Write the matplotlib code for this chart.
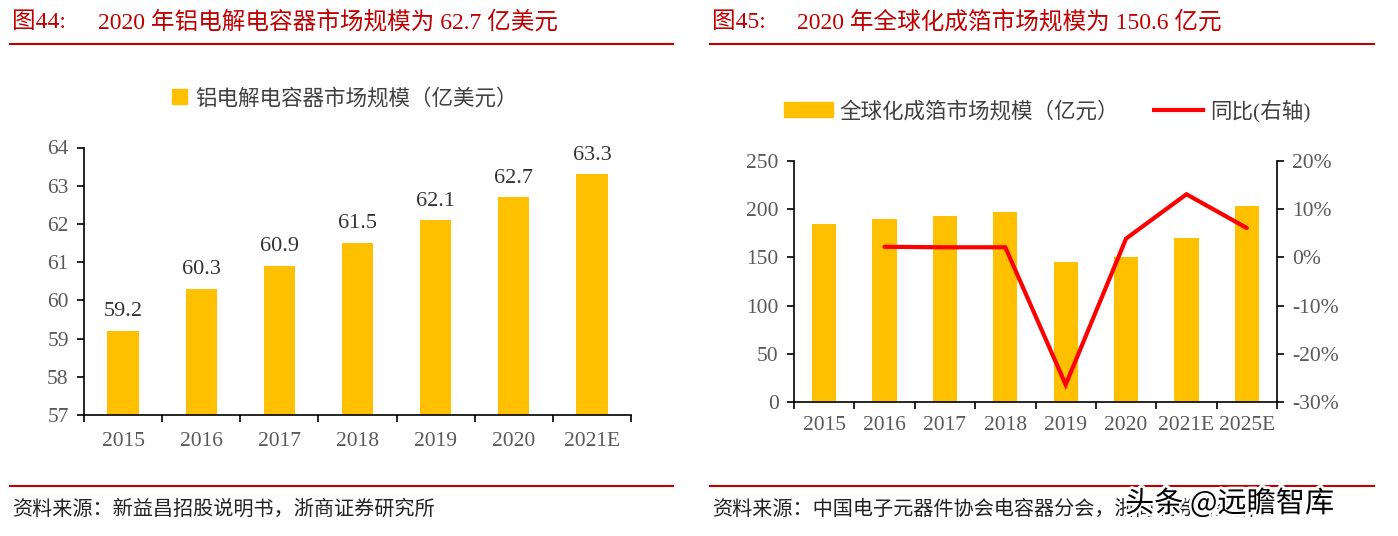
import matplotlib
matplotlib.use("Agg")
import matplotlib.pyplot as plt
from matplotlib.lines import Line2D
from matplotlib.ticker import FuncFormatter, FixedLocator
import matplotlib.patheffects as pe

plt.rcParams['font.family'] = ['Liberation Serif', 'Noto Sans CJK SC', 'DejaVu Sans']

# ---- data ----
years_l = ['2015', '2016', '2017', '2018', '2019', '2020', '2021E']
alu_cap = [59.2, 60.3, 60.9, 61.5, 62.1, 62.7, 63.3]

years_r = ['2015', '2016', '2017', '2018', '2019', '2020', '2021E', '2025E']
foil_market = [185, 189.5, 193, 197, 145, 150.6, 170, 203]
foil_yoy = [None, 2.2, 2.1, 2.1, -26.4, 3.9, 13.1, 6.1]

title_l = '2020 年铝电解电容器市场规模为 62.7 亿美元'
title_r = '2020 年全球化成箔市场规模为 150.6 亿元'
legend_l = '铝电解电容器市场规模（亿美元）'
legend_r_bar = '全球化成箔市场规模（亿元）'
legend_r_line = '同比(右轴)'
source_l = '资料来源：新益昌招股说明书，浙商证券研究所'
source_r = '资料来源：中国电子元器件协会电容器分会，浙商证券研究所'

BAR = '#FFC000'
RED = '#FF0000'
DARKRED = '#C00000'
TICK = '#595959'

W, H = 1398, 536
fig = plt.figure(figsize=(W / 100, H / 100), dpi=100)

def fx(px):
    return px / W

def fy(py):
    return 1 - py / H

# titles & rules
fig.text(fx(12), fy(22), '图44:', color=DARKRED, fontsize=17, va='center', ha='left')
fig.text(fx(98), fy(22), title_l, color=DARKRED, fontsize=17, va='center', ha='left')
fig.text(fx(712), fy(22), '图45:', color=DARKRED, fontsize=17, va='center', ha='left')
fig.text(fx(797), fy(22), title_r, color=DARKRED, fontsize=17, va='center', ha='left')
for x0, x1 in [(10, 673), (710, 1374)]:
    fig.add_artist(Line2D([fx(x0), fx(x1)], [fy(44), fy(44)], color=DARKRED, lw=1.5))
    fig.add_artist(Line2D([fx(x0), fx(x1)], [fy(486), fy(486)], color=DARKRED, lw=1.5))
fig.text(fx(12), fy(510), source_l, color='#222222', fontsize=14.5, va='center', ha='left')
fig.text(fx(712), fy(510), source_r, color='#222222', fontsize=14.5, va='center', ha='left')
fig.text(fx(1125), fy(504), '头条 @远瞻智库', color='black', fontsize=21, va='center', ha='left',
         family=['Noto Sans CJK SC', 'DejaVu Sans'],
         path_effects=[pe.withStroke(linewidth=4, foreground='white')])

# ---- left chart ----
axL = fig.add_axes([fx(84), fy(415), fx(631) - fx(84), fy(147.5) - fy(415)])
xl = list(range(len(years_l)))
axL.bar(xl, [v - 57 for v in alu_cap], bottom=57, width=0.4, color=BAR)
axL.set_xlim(-0.5, len(years_l) - 0.5)
axL.set_ylim(57, 64)
axL.set_yticks(range(57, 65))
axL.xaxis.set_major_locator(FixedLocator([i - 0.5 for i in range(len(years_l) + 1)]))
axL.xaxis.set_major_formatter(FuncFormatter(lambda v, p: ''))
axL.set_xticks(xl, minor=True)
axL.set_xticklabels(years_l, minor=True)
axL.tick_params(axis='x', which='minor', length=0, pad=12, labelsize=15.5, labelcolor=TICK)
axL.tick_params(axis='x', which='major', length=5, direction='out', width=1.2)
axL.tick_params(axis='y', length=5, direction='out', width=1.2, labelsize=15.5, labelcolor=TICK, pad=6)
for s in ['top', 'right']:
    axL.spines[s].set_visible(False)
for s in ['left', 'bottom']:
    axL.spines[s].set_linewidth(1.2)
for xi, v in zip(xl, alu_cap):
    axL.text(xi, v + 0.25, f'{v:.1f}', ha='center', va='bottom', fontsize=16, color='#333333')
fig.legend([plt.Rectangle((0, 0), 1, 1, color=BAR)], [legend_l], loc='center',
           bbox_to_anchor=(fx(345), fy(99)), frameon=False, fontsize=15.5,
           handlelength=0.7, handleheight=0.7, handletextpad=0.4, labelcolor='#404040')

# ---- right chart ----
axR = fig.add_axes([fx(794), fy(402), fx(1277) - fx(794), fy(161) - fy(402)])
xr = list(range(len(years_r)))
axR.bar(xr, foil_market, width=0.4, color=BAR)
axR.set_xlim(-0.5, len(years_r) - 0.5)
axR.set_ylim(0, 250)
axR.set_yticks(range(0, 251, 50))
axR.xaxis.set_major_locator(FixedLocator([i - 0.5 for i in range(len(years_r) + 1)]))
axR.xaxis.set_major_formatter(FuncFormatter(lambda v, p: ''))
axR.set_xticks(xr, minor=True)
axR.set_xticklabels(years_r, minor=True)
axR.tick_params(axis='x', which='minor', length=0, pad=10, labelsize=15.5, labelcolor=TICK)
axR.tick_params(axis='x', which='major', length=5, direction='out', width=1.2)
axR.tick_params(axis='y', length=5, direction='out', width=1.2, labelsize=15.5, labelcolor=TICK, pad=6)
axR.spines['top'].set_visible(False)
axR.spines['right'].set_visible(False)
for s in ['left', 'bottom']:
    axR.spines[s].set_linewidth(1.2)

axR2 = axR.twinx()
lx = [x for x, v in zip(xr, foil_yoy) if v is not None]
ly = [v for v in foil_yoy if v is not None]
axR2.plot(lx, ly, color=RED, lw=3, solid_capstyle='round', solid_joinstyle='miter')
axR2.set_ylim(-30, 20)
axR2.set_yticks(range(-30, 21, 10))
axR2.yaxis.set_major_formatter(FuncFormatter(lambda v, p: f'{v:.0f}%'))
axR2.tick_params(axis='y', length=5, direction='out', width=1.2, labelsize=15.5, labelcolor=TICK, pad=6)
axR2.spines['top'].set_visible(False)
axR2.spines['left'].set_visible(False)
axR2.spines['bottom'].set_visible(False)
axR2.spines['right'].set_linewidth(1.2)

fig.legend([plt.Rectangle((0, 0), 1, 1, color=BAR), Line2D([0], [0], color=RED, lw=3)],
           [legend_r_bar, legend_r_line], loc='center', ncol=2,
           bbox_to_anchor=(fx(1047), fy(111)), frameon=False, fontsize=15.5,
           handlelength=2.3, handleheight=0.7, handletextpad=0.3, columnspacing=1.6,
           labelcolor='#404040')

fig.savefig('out.png', dpi=100)
